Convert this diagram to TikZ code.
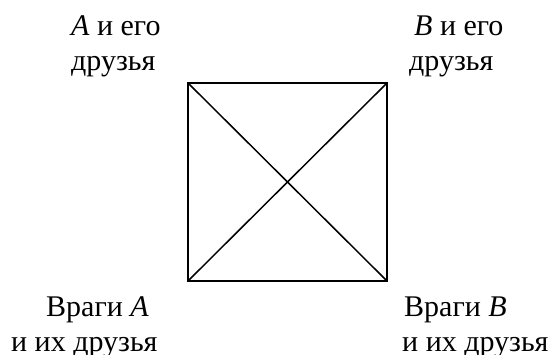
\documentclass[tikz,border=0pt]{standalone}
\usepackage{fontspec}
\setmainfont{Liberation Serif}
\begin{document}
\begin{tikzpicture}[x=1pt,y=-1pt,
  lbl/.style={inner sep=0pt,anchor=base west,font=\fontsize{30}{35}\selectfont},
  edge/.style={line width=1.8pt,line join=miter},
  diag/.style={line width=1.5pt}]
\useasboundingbox (0,0) rectangle (555,355);
\coordinate (tl) at (188,83);
\coordinate (tr) at (387,83);
\coordinate (br) at (387,281);
\coordinate (bl) at (188,281);
\draw[edge] (tl) -- (tr) -- (br) -- (bl) -- cycle;
\draw[diag] (tl) -- (br);
\draw[diag] (tr) -- (bl);
\node[lbl] (a1) at (71,36) {\textit{A} и его};
\node[lbl] (a2) at (71,71) {друзья};
\node[lbl] (b1) at (414,36) {\textit{B} и его};
\node[lbl] (b2) at (409,71) {друзья};
\node[lbl] (c1) at (46,317) {Враги \textit{A}};
\node[lbl] (c2) at (11,352) {и их друзья};
\node[lbl] (d1) at (404,317) {Враги \textit{B}};
\node[lbl] (d2) at (402,352) {и их друзья};
\end{tikzpicture}
\end{document}
